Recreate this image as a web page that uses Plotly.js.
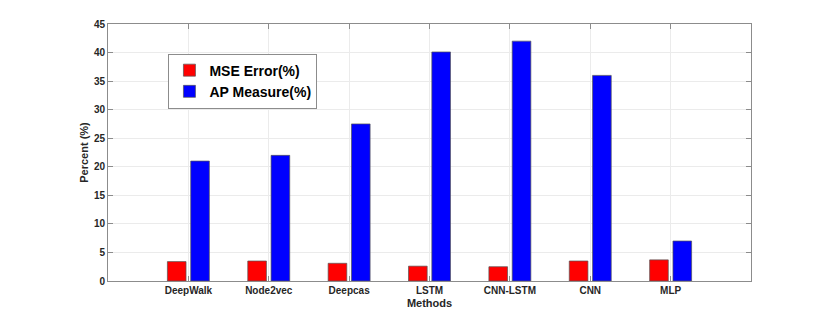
<!DOCTYPE html>
<html>
<head>
<meta charset="utf-8">
<script src="https://cdn.plot.ly/plotly-3.0.1.min.js"></script>
<style>html,body{margin:0;padding:0;background:#fff;}#chart{width:830px;height:316px;}</style>
</head>
<body>
<div id="chart"></div>
<script>
var methods = ["DeepWalk", "Node2vec", "Deepcas", "LSTM", "CNN-LSTM", "CNN", "MLP"];
var mseError = [3.4, 3.5, 3.1, 2.6, 2.5, 3.5, 3.7];
var apMeasure = [21, 22, 27.5, 40.1, 42, 36, 7];
var yTicks = [0, 5, 10, 15, 20, 25, 30, 35, 40, 45];

var xPos = methods.map(function (m, i) { return i + 1; });
var fontFam = "Liberation Sans, Arial, Helvetica, sans-serif";

var traces = [
  {
    type: "bar", name: "MSE Error(%)", x: xPos, y: mseError,
    marker: { color: "#ff0000", line: { color: "#555555", width: 0.7 } }
  },
  {
    type: "bar", name: "AP Measure(%)", x: xPos, y: apMeasure,
    marker: { color: "#0000ff", line: { color: "#555555", width: 0.7 } }
  }
];

var layout = {
  width: 830, height: 316,
  margin: { l: 108, r: 79, t: 24, b: 35, pad: 0 },
  paper_bgcolor: "#ffffff", plot_bgcolor: "#ffffff",
  barmode: "group", bargap: 0.42, bargroupgap: 0.2,
  font: { family: fontFam, size: 10, color: "#262626", weight: "bold" },
  showlegend: true,
  legend: {
    x: 0.094, y: 0.885, xanchor: "left", yanchor: "top",
    bgcolor: "#ffffff", bordercolor: "#8c8c8c", borderwidth: 1,
    font: { family: fontFam, size: 14, color: "#000000", weight: "bold" },
    tracegroupgap: 0, itemwidth: 30
  },
  xaxis: {
    range: [0, 8], tickmode: "array", tickvals: xPos, ticktext: methods,
    ticks: "inside", ticklen: 5, tickcolor: "#8c8c8c", tickwidth: 1,
    showline: true, linecolor: "#8c8c8c", linewidth: 1, mirror: "ticks",
    showgrid: true, gridcolor: "#ebebeb", gridwidth: 1, zeroline: false,
    tickfont: { family: fontFam, size: 10, color: "#262626", weight: "bold" },
    title: { text: "Methods", font: { family: fontFam, size: 11, color: "#262626", weight: "bold" }, standoff: 4 }
  },
  yaxis: {
    range: [0, 45], tickmode: "array", tickvals: yTicks,
    ticks: "inside", ticklen: 5, tickcolor: "#8c8c8c", tickwidth: 1,
    showline: true, linecolor: "#8c8c8c", linewidth: 1, mirror: "ticks",
    showgrid: true, gridcolor: "#ebebeb", gridwidth: 1, zeroline: false,
    tickfont: { family: fontFam, size: 10, color: "#262626", weight: "bold" },
    title: { text: "Percent (%)", font: { family: fontFam, size: 11, color: "#262626", weight: "bold" }, standoff: 3 }
  }
};

Plotly.newPlot("chart", traces, layout, { displayModeBar: false, staticPlot: true });
</script>
</body>
</html>
